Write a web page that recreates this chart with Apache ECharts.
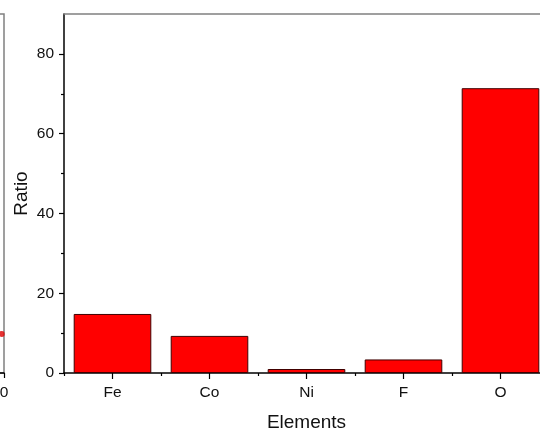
<!DOCTYPE html>
<html>
<head>
<meta charset="utf-8">
<script src="https://cdn.jsdelivr.net/npm/echarts@6/dist/echarts.min.js"></script>
<style>
  html, body { margin: 0; padding: 0; background: #fff; }
  #chart { width: 540px; height: 433px; }
</style>
</head>
<body>
<div id="chart"></div>
<script>
// Element ratios
const elements = ['Fe', 'Co', 'Ni', 'F', 'O'];
const ratios = [14.8, 9.3, 1.0, 3.4, 71.4];

// Axis ticks
const yMajorTicks = [0, 20, 40, 60, 80];
const yMinorTicks = [10, 30, 50, 70];

// Neighbouring panel: one data point near its right edge
const sidePoints = [[-0.3, 9.8]];
const sideXTicks = [-40, -30, -20, -10, 0];

const FONT = 'Liberation Sans, Arial, sans-serif';
const chart = echarts.init(document.getElementById('chart'), null, { renderer: 'canvas' });

chart.setOption({
  animation: false,
  backgroundColor: '#ffffff',
  grid: [
    { left: 64, top: 14, width: 485, height: 359, outerBoundsMode: 'none', containLabel: false },
    { left: -300, top: 14, width: 304, height: 359, outerBoundsMode: 'none', containLabel: false,
      show: true, borderColor: '#808080', borderWidth: 1.5, backgroundColor: 'transparent' }
  ],
  xAxis: [
    {
      gridIndex: 0, type: 'category', data: elements, position: 'bottom',
      name: 'Elements', nameLocation: 'middle', nameGap: 40, nameMoveOverlap: false,
      nameTextStyle: { fontFamily: FONT, fontSize: 19, color: '#111' },
      axisLine: { show: true, lineStyle: { color: '#000', width: 1.5 } },
      axisTick: { show: true, alignWithLabel: true, length: 6, lineStyle: { color: '#000', width: 1.2 } },
      axisLabel: { fontFamily: FONT, fontSize: 15.5, color: '#111', margin: 12 },
      splitLine: { show: false }
    },
    {
      gridIndex: 0, type: 'category', data: elements, position: 'bottom',
      axisLine: { show: false },
      axisTick: { show: true, length: 3, lineStyle: { color: '#000', width: 1.2 } },
      axisLabel: { show: false },
      splitLine: { show: false }
    },
    {
      gridIndex: 0, type: 'category', data: elements, position: 'top',
      axisLine: { show: true, lineStyle: { color: '#808080', width: 1.5 } },
      axisTick: { show: false }, axisLabel: { show: false }, splitLine: { show: false }
    },
    {
      gridIndex: 1, type: 'value', min: -40, max: 0, position: 'bottom',
      axisLine: { show: true, onZero: false, lineStyle: { color: '#000', width: 1.5 } },
      axisTick: { show: true, length: 5, customValues: sideXTicks, lineStyle: { color: '#000', width: 1.2 } },
      axisLabel: { show: true, customValues: sideXTicks, fontFamily: FONT, fontSize: 15.5, color: '#111', margin: 12 },
      splitLine: { show: false }
    }
  ],
  yAxis: [
    {
      gridIndex: 0, type: 'value', min: 0, max: 90, position: 'left',
      name: 'Ratio', nameLocation: 'middle', nameGap: 33, nameRotate: 90, nameMoveOverlap: false,
      nameTextStyle: { fontFamily: FONT, fontSize: 19, color: '#111' },
      axisLine: { show: true, lineStyle: { color: '#000', width: 1.5 } },
      axisTick: { show: true, length: 5, customValues: yMajorTicks, lineStyle: { color: '#000', width: 1.2 } },
      axisLabel: { customValues: yMajorTicks, fontFamily: FONT, fontSize: 15.5, color: '#111', margin: 10 },
      splitLine: { show: false }
    },
    {
      gridIndex: 0, type: 'value', min: 0, max: 90, position: 'left',
      axisLine: { show: false },
      axisTick: { show: true, length: 3, customValues: yMinorTicks, lineStyle: { color: '#000', width: 1.2 } },
      axisLabel: { show: false },
      splitLine: { show: false }
    },
    {
      gridIndex: 1, type: 'value', min: 0, max: 90, show: false
    }
  ],
  series: [
    {
      type: 'bar', xAxisIndex: 0, yAxisIndex: 0, data: ratios,
      barCategoryGap: '20%',
      itemStyle: { color: '#ff0000', borderColor: '#400000', borderWidth: 1 }
    },
    {
      type: 'scatter', xAxisIndex: 3, yAxisIndex: 2, data: sidePoints,
      symbol: 'circle', symbolSize: 6, clip: false,
      itemStyle: { color: '#e00000' }
    }
  ]
});
</script>
</body>
</html>
